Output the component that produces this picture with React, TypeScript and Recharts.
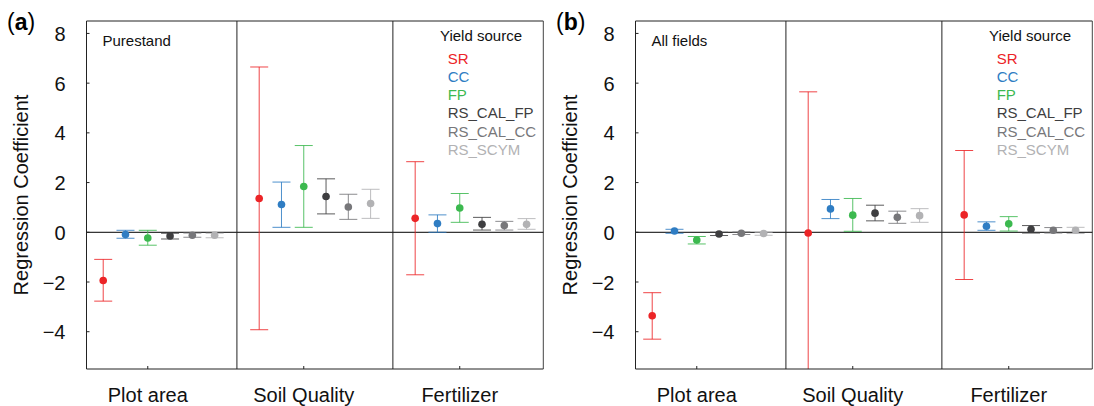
import React from 'react';
import { ScatterChart, Scatter, XAxis, YAxis, ErrorBar, ReferenceLine } from 'recharts';

const categories = ['Plot area', 'Soil Quality', 'Fertilizer'];
const sources = ['SR', 'CC', 'FP', 'RS_CAL_FP', 'RS_CAL_CC', 'RS_SCYM'];
const sourceColors = ['#ec2427', '#2f7dc3', '#3cb94f', '#3e3e40', '#77777a', '#b2b2b4'];
const yTicks = [-4, -2, 0, 2, 4, 6, 8];

// Panel (a) Purestand: rows = sources, columns = categories
const pureEst = [
  [-1.94, 1.36, 0.56],
  [-0.09, 1.12, 0.35],
  [-0.23, 1.84, 0.98],
  [-0.15, 1.44, 0.32],
  [-0.12, 1.02, 0.27],
  [-0.12, 1.16, 0.32],
];
const pureLow = [
  [-2.77, -3.92, -1.71],
  [-0.24, 0.2, 0.0],
  [-0.52, 0.2, 0.4],
  [-0.27, 0.74, 0.09],
  [-0.2, 0.52, 0.09],
  [-0.22, 0.56, 0.12],
];
const pureHigh = [
  [-1.09, 6.65, 2.84],
  [0.08, 2.02, 0.7],
  [0.08, 3.49, 1.56],
  [-0.04, 2.15, 0.6],
  [-0.03, 1.53, 0.44],
  [-0.04, 1.73, 0.55],
];

// Panel (b) All fields
const allEst = [
  [-3.36, -0.03, 0.7],
  [0.05, 0.94, 0.24],
  [-0.31, 0.69, 0.34],
  [-0.07, 0.77, 0.12],
  [-0.04, 0.6, 0.08],
  [-0.05, 0.67, 0.08],
];
const allLow = [
  [-4.3, -5.8, -1.9],
  [-0.04, 0.55, 0.08],
  [-0.47, 0.04, 0.05],
  [-0.13, 0.46, -0.03],
  [-0.09, 0.36, -0.03],
  [-0.12, 0.4, -0.05],
];
const allHigh = [
  [-2.43, 5.65, 3.29],
  [0.12, 1.32, 0.42],
  [-0.17, 1.36, 0.63],
  [0.0, 1.09, 0.27],
  [0.01, 0.85, 0.19],
  [0.0, 0.95, 0.2],
];

const FONT = '"Liberation Sans", Arial, Helvetica, sans-serif';
const SLOT = sources.length + 1;
const groupTicks = categories.map((_, g) => g * SLOT + 2);
const separators = [SLOT - 1, 2 * SLOT - 1];
const X_DOMAIN: [number, number] = [-0.75, 3 * SLOT - 1.25];
const Y_DOMAIN: [number, number] = [-5.5, 8.5];

const CHART_W = 549;
const CHART_H = 406;
const MARGIN = { top: 21, right: 5.7, bottom: 7, left: 46.5 };
const Y_AXIS_W = 40;
const X_AXIS_H = 30;
const PLOT_L = MARGIN.left + Y_AXIS_W;
const PLOT_T = MARGIN.top;
const PLOT_W = CHART_W - PLOT_L - MARGIN.right;
const PLOT_H = CHART_H - PLOT_T - MARGIN.bottom - X_AXIS_H;

const XTick = (props: any) => {
  const { x, y, payload } = props;
  const idx = groupTicks.indexOf(payload.value);
  return (
    <g>
      <line x1={x} x2={x} y1={y} y2={y - 3} stroke="#222" strokeWidth={1} />
      <text x={x} y={y + 33} textAnchor="middle" fontSize={20} fontFamily={FONT} fill="#111">
        {categories[idx]}
      </text>
    </g>
  );
};

const YTick = (props: any) => {
  const { x, y, payload } = props;
  const v = payload.value;
  const label = v < 0 ? '\u2212' + Math.abs(v) : String(v);
  return (
    <g>
      <line x1={x} x2={x + 3} y1={y} y2={y} stroke="#222" strokeWidth={1} />
      <text x={x - 21} y={y + 7.5} textAnchor="end" fontSize={20} fontFamily={FONT} fill="#111">
        {label}
      </text>
    </g>
  );
};

function Panel({ left, letter, title, est, low, high }: any) {
  return (
    <div style={{ position: 'absolute', left, top: 0, width: CHART_W, height: CHART_H }}>
      <ScatterChart width={CHART_W} height={CHART_H} margin={MARGIN}>
        <XAxis
          type="number"
          dataKey="x"
          domain={X_DOMAIN}
          ticks={groupTicks}
          interval={0}
          allowDataOverflow
          tickLine={false}
          tickSize={0}
          tickMargin={0}
          height={X_AXIS_H}
          axisLine={{ stroke: '#222' }}
          tick={<XTick />}
        />
        <YAxis
          type="number"
          dataKey="y"
          domain={Y_DOMAIN}
          ticks={yTicks}
          interval={0}
          allowDataOverflow
          tickLine={false}
          tickSize={0}
          tickMargin={0}
          width={Y_AXIS_W}
          axisLine={{ stroke: '#222' }}
          tick={<YTick />}
        />
        <ReferenceLine y={Y_DOMAIN[1]} stroke="#222" strokeWidth={1} />
        <ReferenceLine x={X_DOMAIN[1]} stroke="#444" strokeWidth={1} />
        <ReferenceLine y={0} stroke="#000" strokeWidth={1} />
        {separators.map((s) => (
          <ReferenceLine key={s} x={s} stroke="#222" strokeWidth={1} />
        ))}
        {sources.map((src, si) => {
          const data = categories.map((_, g) => ({
            x: g * SLOT + si,
            y: est[si][g],
            err: [est[si][g] - low[si][g], high[si][g] - est[si][g]],
          }));
          const color = sourceColors[si];
          return (
            <Scatter
              key={src}
              name={src}
              data={data}
              fill={color}
              isAnimationActive={false}
              shape={(p: any) => <circle cx={p.cx} cy={p.cy} r={3.8} fill={color} />}
            >
              <ErrorBar
                dataKey="err"
                direction="y"
                width={9}
                stroke={color}
                strokeWidth={1}
                strokeOpacity={0.85}
                isAnimationActive={false}
              />
            </Scatter>
          );
        })}
      </ScatterChart>
      <svg
        width={CHART_W}
        height={CHART_H}
        style={{ position: 'absolute', left: 0, top: 0, pointerEvents: 'none' }}
      >
        <text x={7} y={30} fontSize={23} fontFamily={FONT} fill="#000">
          (<tspan fontWeight="bold">{letter}</tspan>)
        </text>
        <text
          transform="translate(21,195) rotate(-90)"
          textAnchor="middle"
          dominantBaseline="central"
          fontSize={20}
          fontFamily={FONT}
          fill="#111"
        >
          Regression Coefficient
        </text>
        <text x={102.5} y={46} fontSize={15} fontFamily={FONT} fill="#111">
          {title}
        </text>
        <text x={440} y={40.5} fontSize={15} fontFamily={FONT} fill="#111">
          Yield source
        </text>
        {sources.map((src, si) => (
          <text
            key={src}
            x={447.7}
            y={63.7 + si * 18.2}
            fontSize={15}
            fontFamily={FONT}
            fill={sourceColors[si]}
          >
            {src}
          </text>
        ))}
      </svg>
    </div>
  );
}

export default function App() {
  return (
    <div
      style={{
        position: 'absolute',
        left: 0,
        top: 0,
        width: 1094,
        height: 406,
        overflow: 'hidden',
        background: '#fff',
      }}
    >
      <style>{`.recharts-errorBars, .recharts-errorBar { clip-path: url(#plotAreaClip); }`}</style>
      <svg width={0} height={0} style={{ position: 'absolute' }}>
        <defs>
          <clipPath id="plotAreaClip" clipPathUnits="userSpaceOnUse">
            <rect x={PLOT_L} y={PLOT_T} width={PLOT_W} height={PLOT_H} />
          </clipPath>
        </defs>
      </svg>
      <Panel left={0} letter="a" title="Purestand" est={pureEst} low={pureLow} high={pureHigh} />
      <Panel left={549.2} letter="b" title="All fields" est={allEst} low={allLow} high={allHigh} />
    </div>
  );
}
